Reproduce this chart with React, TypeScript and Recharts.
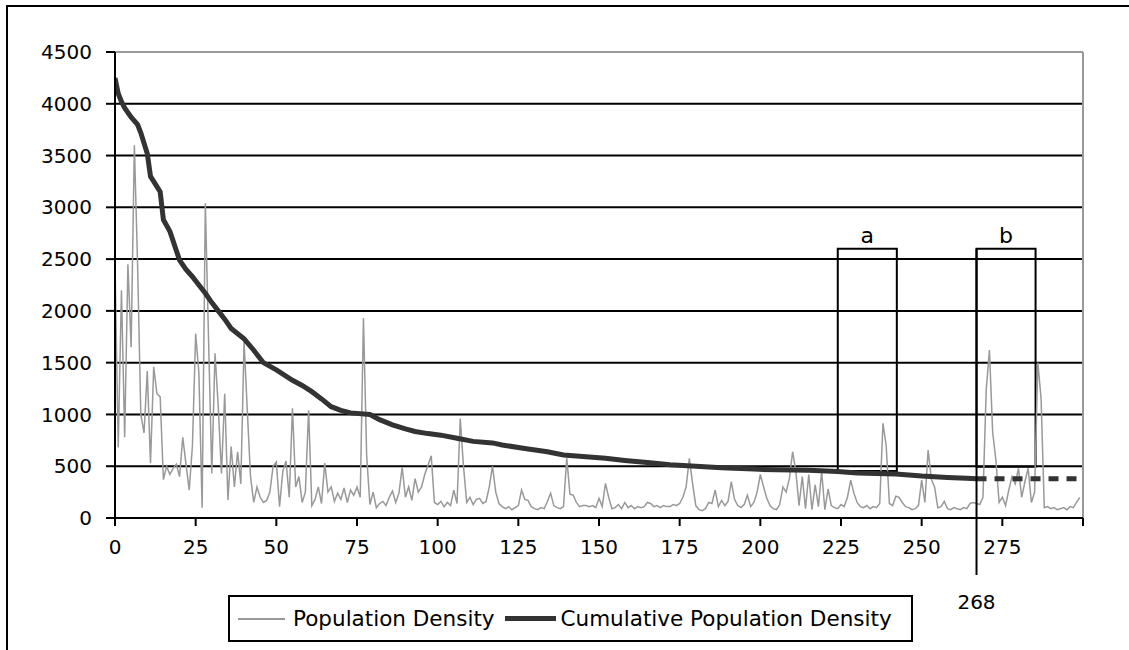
import React from 'react';
import {CartesianGrid, Line, LineChart, ReferenceArea, ReferenceLine, XAxis, YAxis} from 'recharts';

// population density per rank (0..299)
const density = [
    2450, 680, 2200, 780, 2450, 1650, 3600, 2450, 1000, 820,
    1420, 530, 1460, 1200, 1170, 370, 500, 420, 480, 520,
    400, 780, 520, 270, 700, 1780, 1400, 100, 3040, 1720,
    430, 1590, 1075, 430, 1200, 173, 690, 300, 640, 330,
    1700, 1040, 400, 150, 300, 200, 150, 170, 250, 500,
    540, 110, 450, 550, 200, 1060, 300, 400, 150, 250,
    1040, 120, 180, 300, 140, 530, 250, 300, 160, 240,
    180, 290, 150, 270, 220, 300, 200, 1930, 600, 130,
    250, 100, 140, 160, 120, 200, 260, 150, 240, 490,
    200, 300, 170, 380, 250, 300, 420, 510, 600, 150,
    130, 160, 110, 150, 120, 270, 140, 960, 500, 150,
    200, 130, 180, 190, 140, 160, 300, 500, 250, 140,
    110, 90, 110, 80, 100, 120, 270, 180, 170, 110,
    90, 80, 100, 90, 160, 240, 120, 100, 90, 110,
    580, 230, 220, 150, 110, 120, 120, 110, 120, 100,
    190, 110, 335, 200, 90, 100, 130, 90, 150, 100,
    120, 90, 110, 100, 110, 150, 140, 110, 120, 100,
    120, 110, 110, 130, 120, 140, 200, 300, 576, 335,
    120, 80, 70, 90, 150, 140, 270, 110, 170, 120,
    160, 350, 180, 120, 100, 130, 220, 110, 150, 250,
    420, 300, 190, 120, 90, 80, 130, 300, 250, 380,
    640, 450, 120, 400, 90, 420, 80, 320, 110, 450,
    80, 280, 120, 100, 90, 130, 110, 200, 366, 240,
    150, 110, 100, 120, 90, 110, 100, 140, 914, 700,
    140, 120, 210, 200, 150, 110, 100, 80, 90, 120,
    366, 150, 656, 375, 300, 100, 110, 160, 90, 80,
    100, 90, 80, 100, 90, 140, 150, 140, 130, 200,
    1235, 1622, 830, 560, 150, 200, 120, 270, 400, 330,
    480, 200, 350, 480, 150, 250, 1500, 1160, 100, 110,
    90, 100, 80, 90, 100, 80, 110, 100, 150, 200,
];

// cumulative density, solid part up to the cutoff
const cumRank = [
    0, 1, 2, 3, 5, 7, 8, 10, 11, 13, 14, 15, 17, 20, 22, 24, 26, 28, 30, 32,
    34, 36, 40, 43, 46, 50, 55, 58, 61, 64, 67, 70, 73, 79, 82, 86, 90, 93, 97, 101,
    106, 111, 117, 120, 127, 134, 139, 146, 152, 158, 165, 172, 180, 188, 198, 205, 215, 224, 230, 242,
    250, 258, 264, 267,
];
const cumValue = [
    4250, 4100, 4020, 3960, 3870, 3800, 3720, 3520, 3300, 3200, 3150, 2880, 2770, 2490, 2400, 2330, 2250, 2170, 2080, 2000,
    1920, 1830, 1730, 1620, 1500, 1430, 1330, 1280, 1220, 1150, 1075, 1040, 1015, 1000, 950, 900, 860, 835, 815, 800,
    770, 740, 725, 705, 672, 640, 608, 592, 576, 555, 535, 515, 500, 485, 472, 465, 460, 450, 435, 425,
    405, 392, 385, 380,
];
// dashed continuation past the cutoff
const dashRank = [267, 280, 299];
const dashValue = [380, 378, 378];

const xTicks = [0, 25, 50, 75, 100, 125, 150, 175, 200, 225, 250, 275, 300];
const yTicks = [0, 500, 1000, 1500, 2000, 2500, 3000, 3500, 4000, 4500];
const seriesNames = ['Population Density', 'Cumulative Population Density'];
const cutoffLabel = '268';
const cutoffPos = 267;
const boxA = {x1: 224, x2: 242.3, y1: 455, y2: 2600};
const boxB = {x1: 267, x2: 285.3, y1: 495, y2: 2600};

const densityData = density.map((v, i) => ({x: i, density: v}));
const cumData = cumRank.map((x, i) => ({x, cum: cumValue[i]}));
const dashData = dashRank.map((x, i) => ({x, cum: dashValue[i]}));

const font = '"DejaVu Sans", sans-serif';
const tickStyle = {fill: '#000', fontSize: 20, fontFamily: font};

const App = () => {
    return (
        <div style={{position: 'absolute', left: 0, top: 0, width: 1129, height: 650, overflow: 'hidden', background: '#fff'}}>
            <div style={{position: 'absolute', left: 6, top: 5, width: 1123, height: 645, borderLeft: '2px solid #000', borderTop: '2px solid #000', boxSizing: 'border-box'}}/>
            <div style={{position: 'absolute', left: 0, top: 0}}>
                <LineChart width={1129} height={650} data={densityData}
                           margin={{top: 52, right: 46, left: 15, bottom: 92}}>
                    <CartesianGrid vertical={false} stroke="#000" strokeWidth={2}/>
                    <XAxis dataKey="x" type="number" domain={[0, 300]} ticks={xTicks} allowDataOverflow
                           tickFormatter={(v) => (v === 300 ? '' : String(v))}
                           stroke="#000" strokeWidth={2} tickSize={8} tickMargin={14} height={40}
                           tick={tickStyle} interval={0}/>
                    <YAxis type="number" domain={[0, 4500]} ticks={yTicks} width={100}
                           stroke="#000" strokeWidth={2} tickSize={9} tickMargin={14}
                           tick={tickStyle} interval={0}/>
                    <ReferenceLine y={4500} stroke="#999" strokeWidth={2}/>
                    <ReferenceLine x={300} stroke="#999" strokeWidth={2}/>
                    <ReferenceArea x1={boxA.x1} x2={boxA.x2} y1={boxA.y1} y2={boxA.y2} fill="none" fillOpacity={0}
                                   stroke="#000" strokeWidth={2}
                                   label={{value: 'a', position: 'top', offset: 6, fill: '#000', fontSize: 22, fontFamily: font}}/>
                    <ReferenceArea x1={boxB.x1} x2={boxB.x2} y1={boxB.y1} y2={boxB.y2} fill="none" fillOpacity={0}
                                   stroke="#000" strokeWidth={2}
                                   label={{value: 'b', position: 'top', offset: 6, fill: '#000', fontSize: 22, fontFamily: font}}/>
                    <Line dataKey="density" name={seriesNames[0]} stroke="#999" strokeWidth={1.5} dot={false}
                          type="linear" isAnimationActive={false}/>
                    <Line data={cumData} dataKey="cum" name={seriesNames[1]} stroke="#333" strokeWidth={5} dot={false}
                          type="linear" isAnimationActive={false}/>
                    <Line data={dashData} dataKey="cum" stroke="#333" strokeWidth={5} strokeDasharray="10 8" dot={false}
                          type="linear" isAnimationActive={false} legendType="none"/>
                    <ReferenceLine segment={[{x: cutoffPos, y: -550}, {x: cutoffPos, y: 2600}]} ifOverflow="visible"
                                   stroke="#000" strokeWidth={2}
                                   label={{value: cutoffLabel, position: 'bottom', offset: 20, fill: '#000', fontSize: 20, fontFamily: font}}/>
                </LineChart>
            </div>
            <div style={{position: 'absolute', left: 228, top: 595, width: 685, height: 47, border: '2px solid #000',
                boxSizing: 'border-box', display: 'flex', alignItems: 'center', fontFamily: font, fontSize: 21.5,
                color: '#000', whiteSpace: 'nowrap'}}>
                <span style={{display: 'inline-block', width: 47, borderTop: '2px solid #999', marginLeft: 8, marginRight: 8}}/>
                <span>{seriesNames[0]}</span>
                <span style={{display: 'inline-block', width: 51, borderTop: '5px solid #333', marginLeft: 10, marginRight: 5}}/>
                <span>{seriesNames[1]}</span>
            </div>
        </div>
    );
};

export default App;
